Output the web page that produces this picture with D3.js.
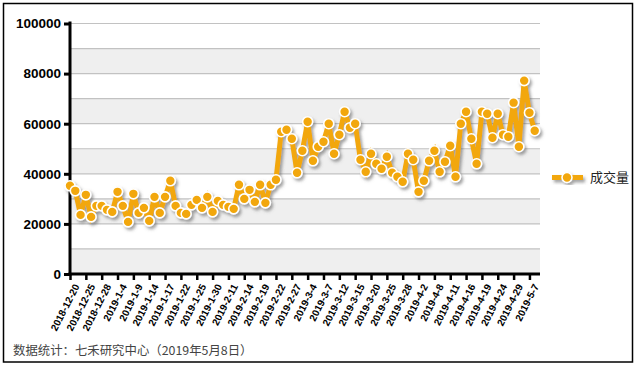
<!DOCTYPE html>
<html><head><meta charset="utf-8">
<script src="https://cdn.jsdelivr.net/npm/d3@7"></script>
<style>
html,body{margin:0;padding:0;background:#fff;}
svg{display:block;}
</style></head>
<body>
<svg id="chart" width="636" height="366"></svg>
<script>
const dates = ["2018-12-20","2018-12-21","2018-12-24","2018-12-25","2018-12-26","2018-12-27","2018-12-28",
"2019-1-2","2019-1-3","2019-1-4","2019-1-7","2019-1-8","2019-1-9","2019-1-10","2019-1-11","2019-1-14",
"2019-1-15","2019-1-16","2019-1-17","2019-1-18","2019-1-21","2019-1-22","2019-1-23","2019-1-24","2019-1-25",
"2019-1-28","2019-1-29","2019-1-30","2019-1-31","2019-2-1","2019-2-11","2019-2-12","2019-2-13","2019-2-14",
"2019-2-15","2019-2-18","2019-2-19","2019-2-20","2019-2-21","2019-2-22","2019-2-25","2019-2-26","2019-2-27",
"2019-2-28","2019-3-1","2019-3-4","2019-3-5","2019-3-6","2019-3-7","2019-3-8","2019-3-11","2019-3-12",
"2019-3-13","2019-3-14","2019-3-15","2019-3-18","2019-3-19","2019-3-20","2019-3-21","2019-3-22","2019-3-25",
"2019-3-26","2019-3-27","2019-3-28","2019-3-29","2019-4-1","2019-4-2","2019-4-3","2019-4-4","2019-4-8",
"2019-4-9","2019-4-10","2019-4-11","2019-4-12","2019-4-15","2019-4-16","2019-4-17","2019-4-18","2019-4-19",
"2019-4-22","2019-4-23","2019-4-24","2019-4-25","2019-4-26","2019-4-29","2019-4-30","2019-5-6","2019-5-7","2019-5-8"];
const volume = [35200,33200,23600,31600,22800,27200,27200,25600,24800,32800,27200,20800,32000,24400,26400,21200,
30800,24400,30800,37200,27200,24400,24000,27600,29600,26400,30800,24800,29200,27600,26800,26000,35600,30000,
33600,28800,35600,28400,35600,37600,56800,57600,54000,40400,49200,60800,45200,50800,52800,60000,48000,55600,
64800,58400,60000,45600,40800,48000,44000,42000,46800,40400,38800,36800,48000,45600,32800,37200,45200,49200,
40800,44800,51200,38800,60000,64800,54000,44000,64800,64000,54400,64000,55600,54800,68400,50800,77200,64400,57200];
const tickLabels = dates.filter((d,i)=>i%3===0);
const yTicks = [0,20000,40000,60000,80000,100000];
const seriesName = "成交量";
const footer = "数据统计：七禾研究中心（2019年5月8日）";

(function(){
const svg = d3.select("#chart");
const font = "'Liberation Sans', Arial, sans-serif";
const pL = 70, pR = 540, pT = 23.5, pB = 274;
const color = "#F2A70A";

const defs = svg.append("defs");
const f = defs.append("filter").attr("id","sh").attr("x","-20%").attr("y","-20%").attr("width","140%").attr("height","140%");
f.append("feDropShadow").attr("dx",2).attr("dy",2.5).attr("stdDeviation",1.4).attr("flood-color","#555").attr("flood-opacity",0.55);

svg.append("rect").attr("x",3.5).attr("y",3.5).attr("width",629).attr("height",358.5)
  .attr("fill","#fff").attr("stroke","#000").attr("stroke-width",1.5);

const y = d3.scaleLinear().domain([0,100000]).range([pB, pT]);
const x = d3.scalePoint().domain(dates).range([pL, pL + (pR-pL)/dates.length*(dates.length-1)]);

const bandStarts = d3.range(0,100000,20000);
svg.append("g").selectAll("rect").data(bandStarts).join("rect")
  .attr("x",pL).attr("width",pR-pL)
  .attr("y",d=>y(d+10000)).attr("height",d=>y(d)-y(d+10000))
  .attr("fill","#efefef");
svg.append("g").selectAll("line").data(d3.range(10000,100001,10000)).join("line")
  .attr("x1",pL).attr("x2",pR).attr("y1",d=>y(d)).attr("y2",d=>y(d))
  .attr("stroke","#c2c2c2").attr("stroke-width",1.2);

const ya = svg.append("g").attr("transform",`translate(${pL},0)`)
  .call(d3.axisLeft(y).tickValues(yTicks).tickSize(6).tickPadding(3).tickFormat(d3.format("d")));
ya.select(".domain").remove();
ya.selectAll(".tick line").attr("stroke","#000").attr("stroke-width",3);
ya.selectAll("text").attr("font-family",font).attr("font-size",13.5).attr("font-weight","bold").attr("fill","#000");
svg.append("line").attr("x1",pL).attr("x2",pL).attr("y1",pT-2).attr("y2",pB+1.5)
  .attr("stroke","#000").attr("stroke-width",3);

const xa = svg.append("g").attr("transform",`translate(0,${pB})`)
  .call(d3.axisBottom(x).tickValues(tickLabels).tickSize(6).tickPadding(2));
xa.select(".domain").remove();
xa.selectAll(".tick line").attr("stroke","#000").attr("stroke-width",2.5);
xa.selectAll("text").attr("font-family",font).attr("font-size",10).attr("font-weight","bold").attr("fill","#000")
  .attr("text-anchor","end").attr("dy","0.35em")
  .attr("transform","translate(-1,7) rotate(-63)");
svg.append("line").attr("x1",pL-1.5).attr("x2",pR).attr("y1",pB).attr("y2",pB)
  .attr("stroke","#000").attr("stroke-width",3);

const line = d3.line().x((d,i)=>x(dates[i])).y(d=>y(d));
const g = svg.append("g").attr("filter","url(#sh)");
g.append("path").datum(volume).attr("d",line).attr("fill","none")
  .attr("stroke",color).attr("stroke-width",5).attr("stroke-linejoin","miter").attr("stroke-miterlimit",3);
g.selectAll("circle").data(volume).join("circle")
  .attr("cx",(d,i)=>x(dates[i])).attr("cy",d=>y(d)).attr("r",5)
  .attr("fill",color).attr("stroke","#fff").attr("stroke-width",1.6);

const lg = svg.append("g").attr("filter","url(#sh)");
lg.append("line").attr("x1",552).attr("x2",583).attr("y1",177.5).attr("y2",177.5)
  .attr("stroke",color).attr("stroke-width",5);
lg.append("circle").attr("cx",567).attr("cy",177.5).attr("r",5).attr("fill",color)
  .attr("stroke","#fff").attr("stroke-width",1.6);
svg.append("text").attr("x",590).attr("y",182).text(seriesName)
  .attr("font-family","'Noto Sans CJK SC', sans-serif").attr("font-size",13).attr("fill","#222");

svg.append("text").attr("x",13).attr("y",355).text(footer)
  .attr("font-family","'Noto Sans CJK SC', sans-serif").attr("font-size",12.4).attr("fill","#444");
})();
</script>
</body></html>
